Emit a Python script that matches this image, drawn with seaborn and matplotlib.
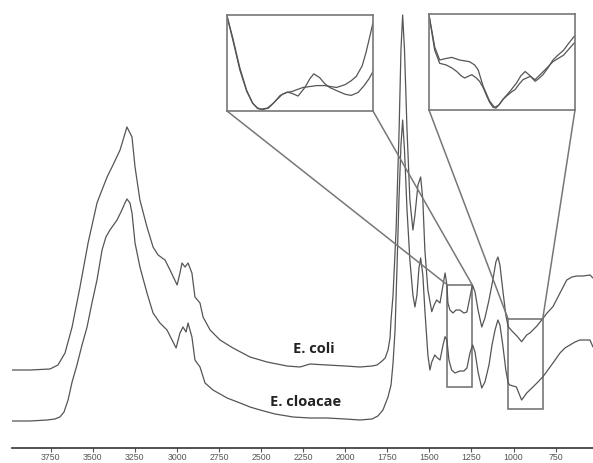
import numpy as np
import pandas as pd
import matplotlib
matplotlib.use("Agg")
import matplotlib.pyplot as plt
from matplotlib.patches import Rectangle, ConnectionPatch
import seaborn as sns

# ---------------- data ----------------
coli_wn = [3980, 3873, 3754, 3707, 3665, 3623, 3576, 3528, 3475, 3457, 3415, 3380, 3338, 3297,
           3267, 3249, 3220, 3178, 3142, 3112, 3071, 3041, 2999, 2982, 2970, 2952, 2934, 2911,
           2893, 2863, 2845, 2803, 2744, 2667, 2566, 2465, 2346, 2269, 2209, 2108, 2001, 1912,
           1841, 1811, 1781, 1763, 1746, 1734, 1728, 1716, 1698, 1680, 1669, 1659, 1648, 1633,
           1616, 1598, 1586, 1568, 1552, 1539, 1527, 1509, 1486, 1472, 1457, 1437, 1419, 1407,
           1396, 1390, 1378, 1360, 1342, 1319, 1295, 1277, 1259, 1244, 1229, 1211, 1189, 1170,
           1146, 1123, 1105, 1093, 1081, 1064, 1046, 1032, 1004, 980, 952, 922, 903, 885, 861,
           833, 801, 766, 724, 684, 653, 625, 588, 546, 528]
coli_abs = [0.050, 0.050, 0.0525, 0.0625, 0.0925, 0.1575, 0.2575, 0.3675, 0.4675, 0.4875, 0.5325,
            0.5625, 0.600, 0.6575, 0.6325, 0.5575, 0.475, 0.4075, 0.3575, 0.3375, 0.325, 0.300,
            0.2625, 0.2925, 0.3175, 0.3075, 0.3175, 0.2925, 0.2325, 0.2175, 0.1825, 0.150, 0.125,
            0.105, 0.0825, 0.070, 0.060, 0.0575, 0.065, 0.0625, 0.060, 0.0575, 0.060, 0.0625,
            0.0725, 0.080, 0.100, 0.130, 0.175, 0.2375, 0.400, 0.650, 0.850, 0.9375, 0.850, 0.650,
            0.475, 0.400, 0.4375, 0.5125, 0.5325, 0.475, 0.350, 0.250, 0.1958, 0.2125, 0.225,
            0.2175, 0.2625, 0.2925, 0.2625, 0.2175, 0.200, 0.1925, 0.200, 0.200, 0.1925, 0.195,
            0.2325, 0.2625, 0.245, 0.200, 0.1575, 0.180, 0.225, 0.275, 0.320, 0.3325, 0.3125,
            0.250, 0.1875, 0.1583, 0.145, 0.135, 0.1208, 0.1375, 0.1425, 0.150, 0.160, 0.175,
            0.1925, 0.2083, 0.2425, 0.275, 0.2825, 0.285, 0.285, 0.2875, 0.280]

cloacae_wn = [3980, 3873, 3772, 3725, 3695, 3671, 3647, 3623, 3594, 3564, 3534, 3505, 3475, 3445,
              3422, 3398, 3356, 3327, 3309, 3297, 3279, 3267, 3249, 3220, 3178, 3142, 3101, 3059,
              3029, 3005, 2982, 2964, 2946, 2934, 2911, 2893, 2863, 2833, 2786, 2702, 2625, 2566,
              2506, 2417, 2310, 2209, 2108, 2001, 1912, 1841, 1806, 1776, 1746, 1728, 1716, 1704,
              1693, 1681, 1669, 1659, 1648, 1633, 1616, 1598, 1586, 1574, 1562, 1552, 1539, 1527,
              1509, 1497, 1486, 1468, 1452, 1437, 1419, 1407, 1396, 1384, 1368, 1348, 1319, 1295,
              1277, 1259, 1243, 1229, 1211, 1189, 1170, 1146, 1128, 1110, 1093, 1081, 1064, 1046,
              1032, 1022, 983, 969, 952, 939, 922, 903, 885, 861, 827, 796, 766, 724, 695, 665,
              635, 606, 570, 546, 528]
cloacae_abs = [0.0475, 0.0475, 0.050, 0.0525, 0.0575, 0.070, 0.100, 0.145, 0.1875, 0.2375, 0.2825,
               0.3425, 0.400, 0.475, 0.5075, 0.525, 0.550, 0.575, 0.5925, 0.6025, 0.5925, 0.5675,
               0.4925, 0.4325, 0.3675, 0.3175, 0.2925, 0.275, 0.250, 0.230, 0.2675, 0.2825, 0.270,
               0.2925, 0.2575, 0.200, 0.1825, 0.1425, 0.125, 0.105, 0.0925, 0.0825, 0.075, 0.065,
               0.0575, 0.055, 0.055, 0.0525, 0.050, 0.0525, 0.060, 0.075, 0.1075, 0.1375, 0.1925,
               0.275, 0.425, 0.600, 0.7375, 0.800, 0.725, 0.575, 0.450, 0.3625, 0.3325, 0.3625,
               0.430, 0.455, 0.4125, 0.325, 0.2125, 0.175, 0.195, 0.2125, 0.205, 0.200, 0.2375,
               0.2583, 0.250, 0.200, 0.175, 0.1675, 0.1725, 0.1725, 0.180, 0.2175, 0.2375, 0.220,
               0.170, 0.130, 0.145, 0.1875, 0.2375, 0.275, 0.300, 0.2875, 0.2375, 0.175, 0.1425,
               0.1375, 0.1325, 0.1175, 0.100, 0.1075, 0.1175, 0.125, 0.1325, 0.1425, 0.1575, 0.175,
               0.1925, 0.2175, 0.230, 0.2375, 0.245, 0.250, 0.250, 0.250, 0.2325]

# zoomed views (normalised absorbance)
zoom1_wn_coli = [1393, 1387, 1380, 1373, 1367, 1362, 1357, 1351, 1344, 1337, 1332, 1327, 1316, 1309,
                 1302, 1294, 1282, 1273, 1267, 1262, 1256, 1252, 1248, 1245]
zoom1_coli = [1.0, 0.760, 0.448, 0.208, 0.073, 0.016, 0.005, 0.021, 0.094, 0.167, 0.1875, 0.198,
              0.240, 0.250, 0.260, 0.260, 0.240, 0.271, 0.3125, 0.357, 0.469, 0.615, 0.792, 0.930]
zoom1_wn_cloacae = [1393, 1387, 1380, 1373, 1367, 1362, 1358, 1352, 1346, 1339, 1332, 1327, 1321,
                    1314, 1309, 1305, 1299, 1294, 1289, 1280, 1273, 1267, 1260, 1254, 1249, 1245]
zoom1_cloacae = [1.0, 0.740, 0.427, 0.198, 0.073, 0.021, 0.010, 0.021, 0.073, 0.156, 0.191, 0.177,
                 0.149, 0.240, 0.333, 0.385, 0.344, 0.281, 0.240, 0.198, 0.167, 0.156, 0.1875,
                 0.260, 0.333, 0.409]

zoom2_wn_coli = [1032, 1028, 1024, 1017, 1009, 1000, 989, 975, 968, 963, 956, 947, 940, 934, 928,
                 918, 909, 903, 897, 890, 883, 878, 872, 865, 858, 851, 843, 837, 829, 827]
zoom2_coli = [1.0, 0.833, 0.660, 0.521, 0.536, 0.549, 0.521, 0.503, 0.469, 0.417, 0.243, 0.086,
              0.018, 0.042, 0.104, 0.191, 0.278, 0.354, 0.399, 0.354, 0.295, 0.323, 0.365, 0.4375,
              0.521, 0.573, 0.625, 0.6875, 0.764, 0.780]
zoom2_wn_cloacae = [1032, 1028, 1024, 1017, 1008, 1000, 993, 987, 982, 978, 972, 966, 961, 956,
                    951, 947, 942, 938, 933, 928, 923, 917, 911, 906, 900, 890, 883, 876, 869,
                    858, 851, 843, 837, 829, 827]
zoom2_cloacae = [1.0, 0.8125, 0.625, 0.486, 0.469, 0.4375, 0.399, 0.354, 0.330, 0.344, 0.365,
                 0.333, 0.295, 0.229, 0.139, 0.073, 0.018, 0.010, 0.052, 0.104, 0.139, 0.177,
                 0.208, 0.260, 0.3125, 0.347, 0.3125, 0.365, 0.417, 0.503, 0.536, 0.573, 0.625,
                 0.695, 0.708]

species = ["E. coli", "E. cloacae"]
tick_values = [3750, 3500, 3250, 3000, 2750, 2500, 2250, 2000, 1750, 1500, 1250, 1000, 750]

# ---------------- style ----------------
sns.set_theme(style="white")
plt.rcParams["font.family"] = ["Liberation Sans", "DejaVu Sans"]

LINE = "#555555"
FRAME = "#777777"
stack_offset = {"E. coli": 0.125, "E. cloacae": 0.0}

W, H = 593, 463
fig = plt.figure(figsize=(W / 100, H / 100), dpi=100)
ax = fig.add_axes([12 / W, 15 / H, 581 / W, 448 / H])

df = pd.concat([
    pd.DataFrame({"wn": coli_wn, "abs": coli_abs, "species": species[0]}),
    pd.DataFrame({"wn": cloacae_wn, "abs": cloacae_abs, "species": species[1]}),
], ignore_index=True)
df["stacked"] = df["abs"] + df["species"].map(stack_offset)

sns.lineplot(data=df, x="wn", y="stacked", hue="species", palette=[LINE, LINE],
             estimator=None, legend=False, linewidth=0.9, ax=ax)

ax.set_xlim(3980, 528)
ax.set_ylim(-0.02, 1.1)
ax.set_xticks(tick_values)
ax.set_xticklabels([str(t) for t in tick_values])
ax.set_yticks([])
ax.set_xlabel("")
ax.set_ylabel("")
for s in ["left", "right", "top"]:
    ax.spines[s].set_visible(False)
ax.spines["bottom"].set_color("#333333")
ax.spines["bottom"].set_linewidth(1.2)
ax.tick_params(axis="x", direction="out", length=2.6, width=0.8, color="#555555",
               pad=0.8, labelsize=6.3, labelcolor="#555555", bottom=True)
ax.patch.set_alpha(0)

# labels
ax.text(2185, 0.2275, "E. coli", ha="center", va="center", fontsize=10.5,
        fontweight="bold", family=["Open Sans", "DejaVu Sans"], color="#222222")
ax.text(2236, 0.095, "E. cloacae", ha="center", va="center", fontsize=10.5,
        fontweight="bold", family=["Open Sans", "DejaVu Sans"], color="#222222")

# zoom windows
boxes = [((1393, 1245), (0.133, 0.3875)), ((1032, 827), (0.0765, 0.302))]
for (x0, x1), (y0, y1) in boxes:
    ax.add_patch(Rectangle((x1, y0), x0 - x1, y1 - y0, fill=False, edgecolor=FRAME, lw=1.2))

inset_rects = [[227 / W, (H - 111) / H, 146 / W, 96 / H],
               [429 / W, (H - 110) / H, 146 / W, 96 / H]]
inset_data = [
    (zoom1_wn_coli, zoom1_coli, zoom1_wn_cloacae, zoom1_cloacae),
    (zoom2_wn_coli, zoom2_coli, zoom2_wn_cloacae, zoom2_cloacae),
]
for rect, data, ((x0, x1), (y0, y1)) in zip(inset_rects, inset_data, boxes):
    ia = fig.add_axes(rect)
    wa, ya, wb, yb = data
    idf = pd.concat([
        pd.DataFrame({"wn": wa, "v": ya, "species": species[0]}),
        pd.DataFrame({"wn": wb, "v": yb, "species": species[1]}),
    ], ignore_index=True)
    sns.lineplot(data=idf, x="wn", y="v", hue="species", palette=[LINE, LINE],
                 estimator=None, legend=False, linewidth=0.9, ax=ia)
    ia.set_xlim(x0, x1)
    ia.set_ylim(-0.01, 1.01)
    ia.set_xticks([])
    ia.set_yticks([])
    ia.set_xlabel("")
    ia.set_ylabel("")
    for s in ia.spines.values():
        s.set_color(FRAME)
        s.set_linewidth(1.2)
    for xa, xd in [(0, x0), (1, x1)]:
        cp = ConnectionPatch(xyA=(xa, 0), coordsA=ia.transAxes,
                             xyB=(xd, y1), coordsB=ax.transData,
                             color=FRAME, lw=1.1)
        fig.add_artist(cp)

fig.savefig("out.png", dpi=100)
